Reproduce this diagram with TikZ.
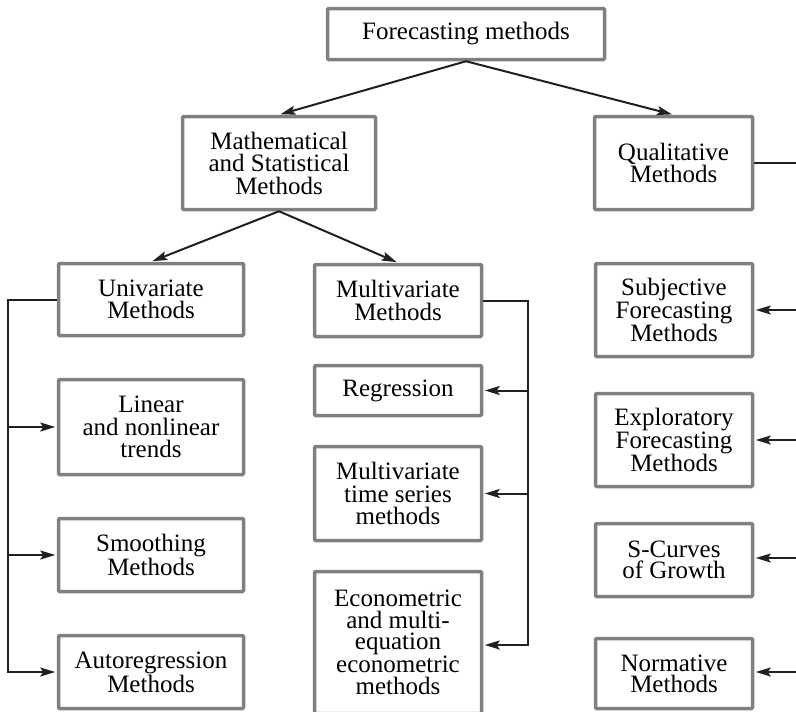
\documentclass[tikz,border=0pt]{standalone}
\usepackage{fontspec}
\setmainfont{Liberation Serif}
\usetikzlibrary{arrows.meta,calc}
\definecolor{boxgray}{HTML}{808080}
\definecolor{ink}{HTML}{231F20}
\begin{document}
\begin{tikzpicture}[x=1pt,y=-1pt,
  box/.style={draw=boxgray, line width=3.5pt, rounded corners=1pt, fill=white,
    inner sep=0pt, align=center, font=\fontsize{25}{22.5}\selectfont},
  tight/.style={font=\fontsize{25}{21}\selectfont},
  conn/.style={draw=ink, line width=2pt},
  arr/.style={conn, -{Stealth[length=15pt,width=9pt,inset=3pt]}, shorten >=1.5pt}]
\useasboundingbox (0,0) rectangle (796,712);
% nodes
\node[box, minimum width=277, minimum height=51] (top) at (466,34) {Forecasting methods};
\node[box, minimum width=193, minimum height=93] (math) at (279,163) {Mathematical\\and Statistical\\Methods};
\node[box, minimum width=158, minimum height=93] (qual) at (673.5,163) {Qualitative\\Methods};
% left column
\node[box, minimum width=185, minimum height=72] (univ) at (151,299.5) {Univariate\\Methods};
\node[box, minimum width=185, minimum height=95] (linear) at (151,427) {Linear\\and nonlinear\\trends};
\node[box, minimum width=185, minimum height=73] (smooth) at (151,555) {Smoothing\\Methods};
\node[box, minimum width=185, minimum height=73] (autoreg) at (151,672) {Autoregression\\Methods};
% middle column
\node[box, minimum width=167, minimum height=72] (multi) at (398,300.5) {Multivariate\\Methods};
\node[box, minimum width=167, minimum height=50] (regr) at (398,390.5) {Regression};
\node[box, minimum width=167, minimum height=94] (mts) at (398,493.5) {Multivariate\\time series\\methods};
\node[box, font=\fontsize{25}{21.5}\selectfont, minimum width=167, minimum height=142] (econ) at (398,642.5) {Econometric\\and multi-\\equation\\econometric\\methods};
% right column
\node[box, tight, minimum width=157, minimum height=93] (subj) at (674,310) {Subjective\\Forecasting\\Methods};
\node[box, tight, minimum width=157, minimum height=93] (expl) at (674,440) {Exploratory\\Forecasting\\Methods};
\node[box, tight, minimum width=157, minimum height=73] (scurve) at (674,560) {S-Curves\\of Growth};
\node[box, tight, minimum width=157, minimum height=70] (norm) at (674,673.5) {Normative\\Methods};
% top-level arrows
\draw[arr] (top.south) -- (math.north);
\draw[arr] (top.south) -- (qual.north);
\draw[arr] (math.south) -- (univ.north);
\draw[arr] (math.south) -- (multi.north);
% univariate branch
\coordinate (lb) at ([xshift=-49pt]univ.west);
\draw[arr] (univ.west) -- (lb) |- (autoreg.west);
\draw[arr] (lb |- linear.west) -- (linear.west);
\draw[arr] (lb |- smooth.west) -- (smooth.west);
% multivariate branch
\coordinate (mb) at ([xshift=45pt]multi.east);
\draw[arr] (multi.east) -- (mb) |- ([yshift=-2.5pt]econ.east);
\draw[arr] (mb |- regr.east) -- (regr.east);
\draw[arr] (mb |- mts.east) -- (mts.east);
% qualitative branch (trunk runs off the right edge)
\coordinate (qr) at (797, 163);
\draw[conn] (qual.east) -- (qr);
\coordinate (r1) at (797, 310);
\coordinate (r2) at (797, 440);
\coordinate (r3) at (797, 558);
\coordinate (r4) at (797, 672);
\draw[arr] (r1) -- (subj.east);
\draw[arr] (r2) -- (expl.east);
\draw[arr] (r3) -- (scurve.east |- r3);
\draw[arr] (r4) -- (norm.east |- r4);
\end{tikzpicture}
\end{document}
